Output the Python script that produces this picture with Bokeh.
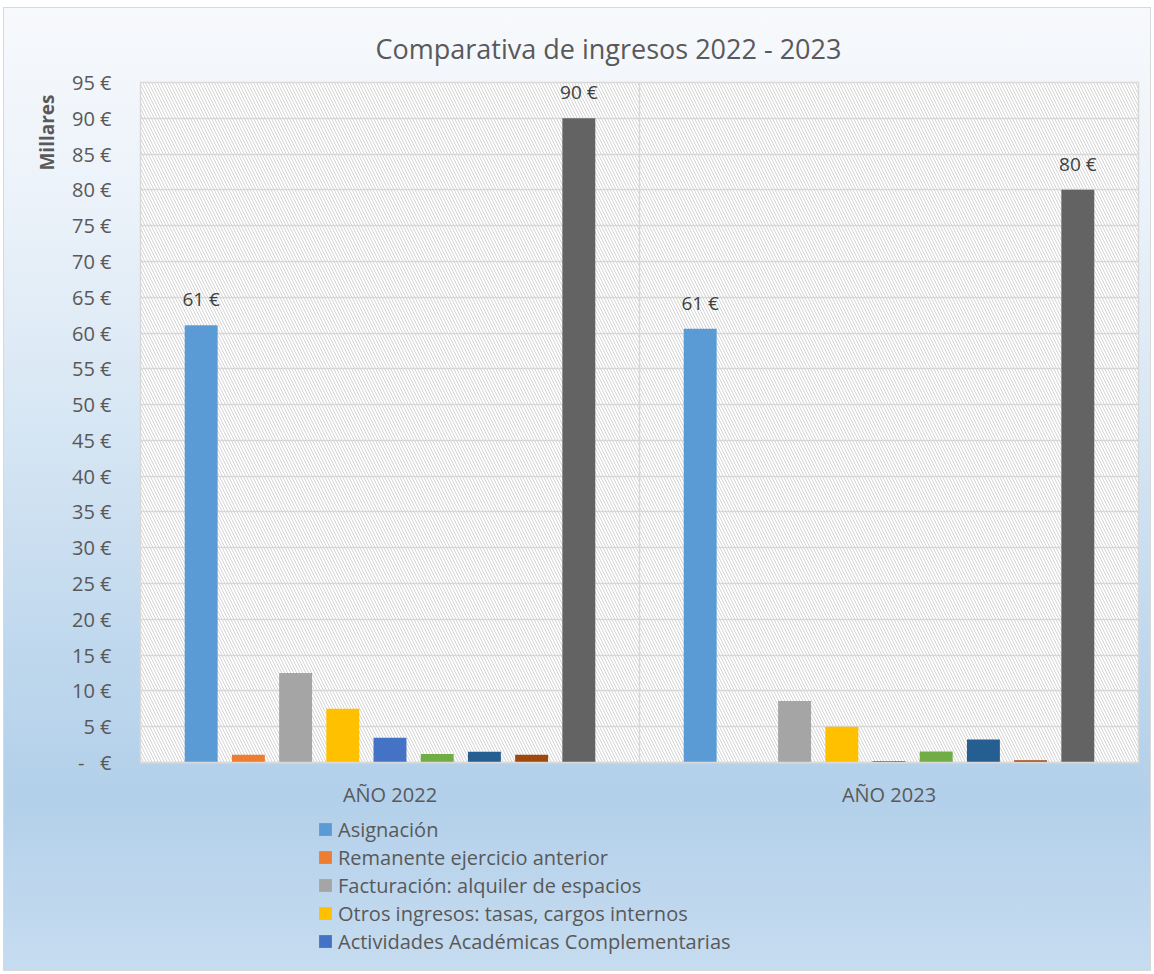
from bokeh.plotting import figure
from bokeh.layouts import column
from bokeh.models import (ColumnDataSource, FixedTicker, Legend, LegendItem, LabelSet, Title)
from bokeh.core.properties import value
from bokeh.embed import file_html
from bokeh.resources import INLINE

# ---------------- data ----------------
categories = ["AÑO 2022", "AÑO 2023"]
series_names = [
    "Asignación",
    "Remanente ejercicio anterior",
    "Facturación: alquiler de espacios",
    "Otros ingresos: tasas, cargos internos",
    "Actividades Académicas Complementarias",
    "Serie 6",
    "Serie 7",
    "Serie 8",
    "Total",
]
asignacion = [61.1, 60.6]
remanente = [1.1, 0.0]
facturacion = [12.5, 8.6]
otros_ingresos = [7.5, 5.0]
actividades = [3.45, 0.2]
serie6 = [1.2, 1.55]
serie7 = [1.5, 3.2]
serie8 = [1.1, 0.3]
total = [90.0, 80.0]
series_values = [asignacion, remanente, facturacion, otros_ingresos, actividades,
                 serie6, serie7, serie8, total]
legend_count = 5          # only the first five entries are visible in the legend
labelled_series = [0, 8]  # series that carry data labels
y_ticks = list(range(0, 100, 5))

colors = ["#5b9bd5", "#ed7d31", "#a5a5a5", "#ffc000", "#4472c4",
          "#70ad47", "#255e91", "#9e480e", "#636363"]

TXT = "#595959"
FONT = "Open Sans"

W = 1146
p = figure(width=W, height=802, output_backend="svg", toolbar_location=None,
           x_range=(0, len(categories)), y_range=(0, 95),
           min_border_left=136, min_border_right=12, min_border_top=74, min_border_bottom=47)
p.border_fill_alpha = 0
p.background_fill_color = "white"
p.outline_line_color = "#d9d9d9"
p.outline_line_width = 1.5

# hatched plot area
p.quad(left=[0], right=[len(categories)], bottom=[0], top=[95], fill_alpha=0,
       line_color=None, hatch_pattern="\\", hatch_color="#d4d4d4", hatch_scale=6,
       hatch_weight=1)

# grid
p.ygrid.ticker = FixedTicker(ticks=y_ticks)
p.ygrid.grid_line_color = "#d9d9d9"
p.ygrid.grid_line_width = 1.5
p.xgrid.ticker = FixedTicker(ticks=[i for i in range(1, len(categories))])
p.xgrid.grid_line_color = "#d9d9d9"
p.xgrid.grid_line_width = 1.5

n = len(series_values)
step = 0.0946
bw = 0.066
for i, vals in enumerate(series_values):
    xs = [c + 0.5 + (i - (n - 1) / 2) * step for c in range(len(categories))]
    src = ColumnDataSource(dict(x=xs, top=vals,
                                lbl=[f"{int(v + 0.5)} €" for v in vals]))
    p.vbar(x="x", top="top", width=bw, bottom=0, source=src,
           fill_color=colors[i], line_color=None)
    if i in labelled_series:
        ls = LabelSet(x="x", y="top", text="lbl", source=src, text_align="center",
                      text_baseline="bottom", y_offset=13, text_font_size="19px",
                      text_color="#404040", text_font=value(FONT))
        p.add_layout(ls)

# axes
p.yaxis.ticker = FixedTicker(ticks=y_ticks)
p.yaxis.major_label_overrides = {t: (f"{t} €" if t else "-\u00a0\u00a0\u00a0€") for t in y_ticks}
p.yaxis.axis_line_color = None
p.yaxis.major_tick_line_color = None
p.yaxis.minor_tick_line_color = None
p.yaxis.major_label_standoff = 23
p.yaxis.major_label_text_font_size = "20px"
p.yaxis.major_label_text_color = TXT
p.yaxis.major_label_text_font = FONT

p.xaxis.ticker = FixedTicker(ticks=[c + 0.5 for c in range(len(categories))])
p.xaxis.major_label_overrides = {c + 0.5: name for c, name in enumerate(categories)}
p.xaxis.axis_line_color = "#d9d9d9"
p.xaxis.axis_line_width = 1.5
p.xaxis.major_tick_line_color = None
p.xaxis.minor_tick_line_color = None
p.xaxis.major_label_standoff = 12
p.xaxis.major_label_text_font_size = "20px"
p.xaxis.major_label_text_color = TXT
p.xaxis.major_label_text_font = FONT

# title
p.title.text = "Comparativa de ingresos 2022 - 2023"
p.title.align = "left"
p.title.offset = 235
p.title.standoff = 31
p.title.text_font_size = "27px"
p.title.text_font_style = "normal"
p.title.text_color = TXT
p.title.text_font = FONT

# axis title (near the top of the axis)
p.add_layout(Title(text="Millares", align="right", offset=12, standoff=18,
                   text_font_size="19px", text_font_style="bold", text_color=TXT,
                   text_font=FONT), "left")

# legend panel (separate figure below the chart so the legend is not clipped)
lg = figure(width=W, height=160, output_backend="svg", toolbar_location=None,
            x_range=(0, 1), y_range=(0, 1), title=None,
            min_border_left=0, min_border_right=0, min_border_top=0, min_border_bottom=0,
            x_axis_type=None, y_axis_type=None)
lg.grid.visible = False
lg.outline_line_color = None
lg.background_fill_alpha = 0
lg.border_fill_alpha = 0
# swatch renderers: zero-height, off-range bars, only used for the legend keys
swatches = [lg.vbar(x=[-5], top=[0], bottom=[0], width=0.01, fill_color=colors[i],
                    line_color=None)
            for i in range(legend_count)]
legend = Legend(items=[LegendItem(label=series_names[i], renderers=[swatches[i]])
                       for i in range(legend_count)],
                location=(177, 15), orientation="vertical",
                background_fill_alpha=0, border_line_color=None,
                padding=0, margin=0, spacing=0,
                glyph_width=16, glyph_height=16, label_height=28,
                label_standoff=5, label_text_font_size="20px",
                label_text_color=TXT, label_text_font=FONT)
lg.add_layout(legend)

layout = column(p, lg, spacing=0)
layout.styles = {"background": "linear-gradient(180deg, #f7f9fc 0%, #edf3fa 18%, #d8e7f4 42%, #bed7ed 68%, #b3d0ea 82%, #c6dcf0 100%)",
                 "border": "1px solid #d9d9d9",
                 "margin-top": "7px", "margin-left": "3px"}

open("out.html", "w").write(file_html(layout, INLINE))
